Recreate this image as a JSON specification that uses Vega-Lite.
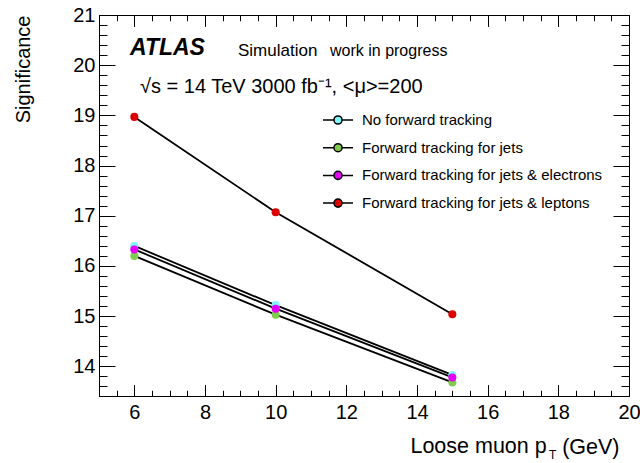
{
  "$schema": "https://vega.github.io/schema/vega-lite/v6.json",
  "width": 530,
  "height": 381,
  "autosize": {"type": "none"},
  "padding": {"left": 99, "top": 15, "right": 11, "bottom": 67},
  "background": "white",
  "config": {
    "font": "Liberation Sans",
    "view": {"stroke": "black", "strokeWidth": 1}
  },
  "datasets": {
    "curves": [
      {"series": "No forward tracking", "pt": 6, "sig": 16.40},
      {"series": "No forward tracking", "pt": 10, "sig": 15.22},
      {"series": "No forward tracking", "pt": 15, "sig": 13.83},
      {"series": "Forward tracking for jets", "pt": 6, "sig": 16.20},
      {"series": "Forward tracking for jets", "pt": 10, "sig": 15.03},
      {"series": "Forward tracking for jets", "pt": 15, "sig": 13.68},
      {"series": "Forward tracking for jets & electrons", "pt": 6, "sig": 16.33},
      {"series": "Forward tracking for jets & electrons", "pt": 10, "sig": 15.15},
      {"series": "Forward tracking for jets & electrons", "pt": 15, "sig": 13.78},
      {"series": "Forward tracking for jets & leptons", "pt": 6, "sig": 18.97},
      {"series": "Forward tracking for jets & leptons", "pt": 10, "sig": 17.07},
      {"series": "Forward tracking for jets & leptons", "pt": 15, "sig": 15.04}
    ]
  },
  "layer": [
    {
      "data": {"name": "curves"},
      "encoding": {
        "x": {
          "field": "pt", "type": "quantitative",
          "scale": {"domain": [5, 20], "nice": false, "zero": false},
          "axis": {
            "values": [5,5.5,6,6.5,7,7.5,8,8.5,9,9.5,10,10.5,11,11.5,12,12.5,13,13.5,14,14.5,15,15.5,16,16.5,17,17.5,18,18.5,19,19.5,20],
            "ticks": false,
            "domain": true, "domainColor": "black", "domainWidth": 1,
            "grid": true, "gridColor": "black", "gridOpacity": 1, "gridWidth": 1,
            "gridDash": {"condition": {"test": "abs(datum.value/2 - round(datum.value/2)) < 0.01", "value": [11.4, 358.2]}, "value": [5.7, 369.6]},
            "labelExpr": "abs(datum.value/2 - round(datum.value/2)) < 0.01 ? format(datum.value, 'd') : ''",
            "labelFontSize": 20, "labelColor": "black", "labelPadding": 6, "labelFlush": false, "labelOverlap": false,
            "title": "(GeV)",
            "titleFontSize": 21.5, "titleFontWeight": "normal", "titleColor": "black",
            "titleX": 520, "titleY": 57, "titleAlign": "right", "titleBaseline": "alphabetic"
          }
        },
        "y": {
          "field": "sig", "type": "quantitative",
          "scale": {"domain": [13.41, 21], "nice": false, "zero": false},
          "axis": {
            "values": [13.6,13.8,14,14.2,14.4,14.6,14.8,15,15.2,15.4,15.6,15.8,16,16.2,16.4,16.6,16.8,17,17.2,17.4,17.6,17.8,18,18.2,18.4,18.6,18.8,19,19.2,19.4,19.6,19.8,20,20.2,20.4,20.6,20.8,21],
            "ticks": false,
            "domain": true, "domainColor": "black", "domainWidth": 1,
            "grid": true, "gridColor": "black", "gridOpacity": 1, "gridWidth": 1,
            "gridDash": {"condition": {"test": "abs(datum.value - round(datum.value)) < 0.01", "value": [16, 498]}, "value": [8, 514]},
            "labelExpr": "abs(datum.value - round(datum.value)) < 0.01 ? format(datum.value, 'd') : ''",
            "labelFontSize": 20, "labelColor": "black", "labelPadding": 4, "labelFlush": false, "labelOverlap": false,
            "title": "Significance",
            "titleFontSize": 20, "titleFontWeight": "normal", "titleColor": "black",
            "titleX": -69.5, "titleY": 0, "titleAlign": "right", "titleBaseline": "alphabetic", "titleAngle": 270
          }
        }
      },
      "layer": [
        {
          "mark": {"type": "line", "color": "black", "strokeWidth": 1.8},
          "encoding": {"detail": {"field": "series"}}
        },
        {
          "mark": {"type": "circle", "size": 65, "opacity": 1},
          "encoding": {
            "color": {
              "field": "series", "type": "nominal",
              "scale": {
                "domain": ["No forward tracking", "Forward tracking for jets", "Forward tracking for jets & electrons", "Forward tracking for jets & leptons"],
                "range": ["#80f6fa", "#80cc50", "#e400f6", "#dd0000"]
              },
              "legend": {
                "orient": "none", "legendX": 223, "legendY": 98, "title": null,
                "direction": "vertical",
                "symbolType": "M-1,0H-0.27M0.27,0H1M0.27,0A0.27,0.27 0 1 1 -0.27,0A0.27,0.27 0 1 1 0.27,0Z",
                "symbolSize": 900, "symbolStrokeWidth": 1.5, "symbolStrokeColor": "black", "symbolOpacity": 1,
                "clipHeight": 14, "rowPadding": 12.7,
                "labelFontSize": 15, "labelOffset": 8, "labelLimit": 320, "labelColor": "black",
                "padding": 0,
                "encode": {"symbols": {"update": {"stroke": {"value": "black"}, "strokeWidth": {"value": 1.5}}}}
              }
            }
          }
        }
      ]
    },
    {
      "data": {"values": [{"label": "ATLAS"}]},
      "mark": {"type": "text", "fontSize": 23, "fontWeight": "bold", "fontStyle": "italic", "align": "left", "baseline": "alphabetic", "color": "black",
               "x": {"expr": "scale('x', 5.877)"}, "y": {"expr": "scale('y', 20.203)"}},
      "encoding": {"text": {"field": "label"}}
    },
    {
      "data": {"values": [{"label": "Simulation"}]},
      "mark": {"type": "text", "fontSize": 17, "align": "left", "baseline": "alphabetic", "color": "black",
               "x": {"expr": "scale('x', 8.934)"}, "y": {"expr": "scale('y', 20.19)"}},
      "encoding": {"text": {"field": "label"}}
    },
    {
      "data": {"values": [{"label": "work in progress"}]},
      "mark": {"type": "text", "fontSize": 16, "align": "left", "baseline": "alphabetic", "color": "black",
               "x": {"expr": "scale('x', 11.538)"}, "y": {"expr": "scale('y', 20.19)"}},
      "encoding": {"text": {"field": "label"}}
    },
    {
      "data": {"values": [{"label": "√s = 14 TeV 3000 fb⁻¹, <μ>=200"}]},
      "mark": {"type": "text", "fontSize": 20, "align": "left", "baseline": "alphabetic", "color": "black",
               "x": {"expr": "scale('x', 6.16)"}, "y": {"expr": "scale('y', 19.446)"}},
      "encoding": {"text": {"field": "label"}}
    },
    {
      "data": {"values": [{"label": "Loose muon p"}]},
      "mark": {"type": "text", "fontSize": 21.5, "align": "right", "baseline": "alphabetic", "color": "black",
               "x": {"expr": "scale('x', 17.671)"}, "y": {"expr": "scale('y', 12.2744)"}},
      "encoding": {"text": {"field": "label"}}
    },
    {
      "data": {"values": [{"label": "T"}]},
      "mark": {"type": "text", "fontSize": 12, "align": "left", "baseline": "alphabetic", "color": "black",
               "x": {"expr": "scale('x', 17.736)"}, "y": {"expr": "scale('y', 12.155)"}},
      "encoding": {"text": {"field": "label"}}
    }
  ]
}
